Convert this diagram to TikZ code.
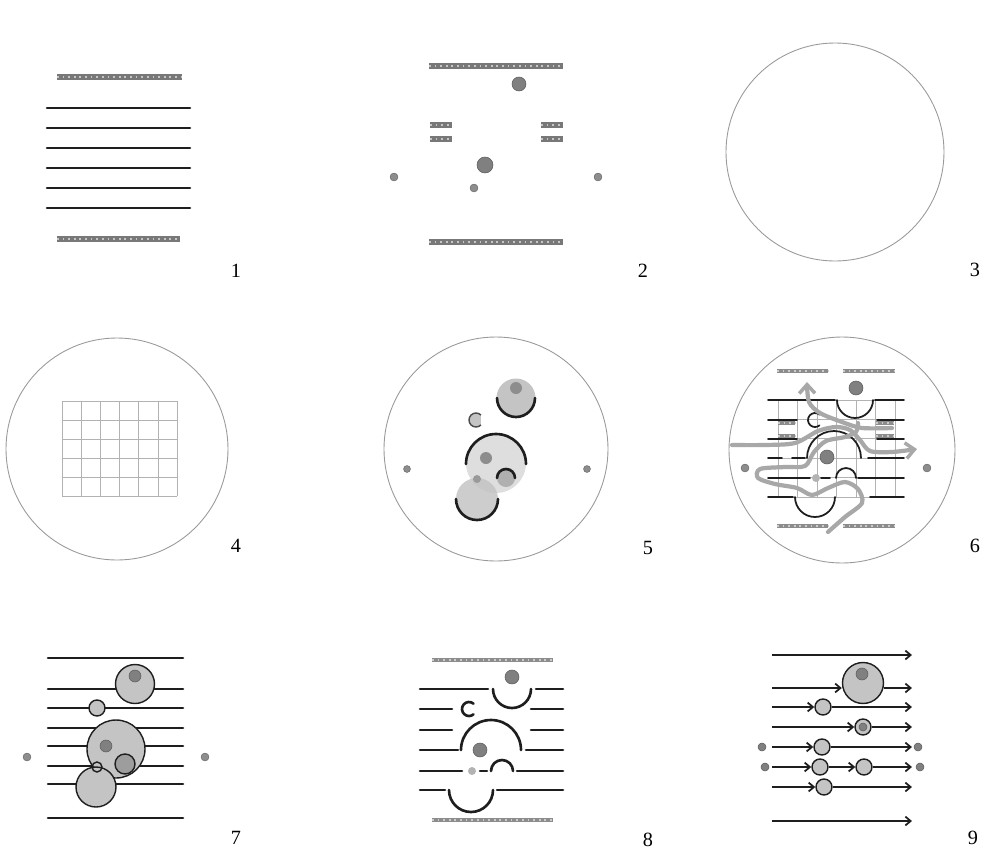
\documentclass[tikz,border=0pt]{standalone}
\usepackage{fontspec}
\setmainfont{Liberation Serif}
\usepackage{tikz}
\usetikzlibrary{arrows.meta}
\definecolor{ink}{RGB}{30,30,30}
\definecolor{bandgray}{RGB}{120,120,120}
\definecolor{cellgray}{RGB}{196,196,196}
\definecolor{paleshade}{RGB}{222,222,222}
\definecolor{nucgray}{RGB}{128,128,128}
\definecolor{flowgray}{RGB}{168,168,168}
\definecolor{gridgray}{RGB}{178,178,178}

\begin{document}
\begin{tikzpicture}[x=0.02cm, y=-0.02cm,
    strand/.style={ink, line width=1.5pt, line cap=round},
    thinstrand/.style={ink, line width=1pt, line cap=round},
    band/.style={bandgray, line width=3pt, postaction={draw=gray!45, line width=0.9pt, dash pattern=on 1pt off 2.2pt}},
    thinband/.style={bandgray!85, line width=1.8pt, postaction={draw=gray!40, line width=0.6pt, dash pattern=on 1pt off 2.2pt}},
    nucleus/.style={fill=nucgray, draw=nucgray!70!black, line width=0.3pt},
    speck/.style={fill=nucgray!90, draw=nucgray!70!black, line width=0.2pt},
    cell/.style={fill=cellgray, draw=ink, line width=0.8pt},
    dish/.style={draw=gray!80, line width=0.5pt},
    mesh/.style={gridgray, line width=0.4pt},
    flow/.style={flowgray, line width=2.4pt, line cap=round, line join=round},
    flowtip/.style={-{Straight Barb[length=5pt, width=9pt, line width=2pt]}},
    drift/.style={ink, line width=1pt, -{Straight Barb[length=3pt, width=5pt]}},
    numlabel/.style={font=\fontsize{11.5}{12}\selectfont, inner sep=0pt}
]
    \useasboundingbox (0,0) rectangle (988,856);

    % Panel 1: layered strands
    \draw[band] (57,77) -- (182,77);
    \foreach \y in {108,128,148,168,188,208}
        \draw[strand] (47,\y) -- (190,\y);
    \draw[band] (57,239) -- (180,239);
    \node[numlabel] (lab1) at (236,271) {1};

    % Panel 2: bands and nuclei
    \draw[band] (429,66) -- (563,66);
    \draw[band] (429,242) -- (563,242);
    \foreach \y in {125,139} {
        \draw[band] (430,\y) -- (452,\y);
        \draw[band] (541,\y) -- (563,\y);
    }
    \fill[nucleus] (519,84) circle (7);
    \fill[nucleus] (485,165) circle (8);
    \foreach \p in {(394,177),(598,177),(474,188)}
        \fill[speck] \p circle (4);
    \node[numlabel] (lab2) at (643,271) {2};

    % Panel 3: empty dish
    \draw[dish] (835,152) circle (109);
    \node[numlabel] (lab3) at (975,270) {3};

    % Panel 4: dish with grid
    \draw[dish] (117,449) circle (111);
    \foreach \i in {0,...,6}
        \draw[mesh] ({62+19.2*\i},401) -- ({62+19.2*\i},496);
    \foreach \j in {0,...,5}
        \draw[mesh] (62,{401+19*\j}) -- (177,{401+19*\j});
    \node[numlabel] (lab4) at (236,546) {4};

    % Panel 5: shaded bubbles
    \draw[dish] (496,449) circle (112);
    \fill[paleshade] (496,463) circle (30);
    \fill[cellgray] (516,398) circle (19.5);
    \fill[nucgray!90] (516,388) circle (6);
    \draw[strand] (497,398) arc[start angle=180, end angle=0, radius=19];
    \draw[fill=cellgray, draw=ink!80, line width=0.8pt] (476,420) ++(315:7) arc[start angle=315, end angle=45, radius=7];
    \draw[strand] (466,464) arc[start angle=180, end angle=360, radius=30];
    \fill[nucgray!90] (486,458) circle (6);
    \fill[cellgray!90!black] (506,478) circle (9);
    \draw[strand] (497,478) arc[start angle=180, end angle=360, radius=9];
    \fill[cellgray, opacity=0.85] (477,499) circle (21);
    \draw[strand] (456,499) arc[start angle=180, end angle=0, radius=21];
    \fill[nucgray!80] (477,479) circle (4);
    \fill[speck] (407,469) circle (3.5);
    \fill[speck] (587,469) circle (3.5);
    \node[numlabel] (lab5) at (648,548) {5};

    % Panel 6: overlay with flow paths
    \draw[dish] (842,450) circle (113);
    \foreach \i in {0,...,6}
        \draw[mesh] ({778+19.5*\i},400) -- ({778+19.5*\i},497);
    \foreach \j in {0,...,5}
        \draw[mesh] (778,{400+19.4*\j}) -- (895,{400+19.4*\j});
    \draw[thinband] (777,371) -- (828,371);
    \draw[thinband] (843,371) -- (895,371);
    \draw[thinband] (777,526) -- (828,526);
    \draw[thinband] (843,526) -- (895,526);
    \foreach \y in {423,436} {
        \draw[thinband] (778,\y) -- (795,\y);
        \draw[thinband] (876,\y) -- (894,\y);
    }
    \fill[nucleus] (856,388) circle (7);
    \fill[nucleus] (827,457) circle (7);
    \fill[speck] (745,468) circle (4);
    \fill[speck] (927,468) circle (4);
    \fill[nucgray!60] (816,478) circle (4);
    \draw[thinstrand] (768,400) -- (835,400);
    \draw[thinstrand] (837,400) arc[start angle=180, end angle=0, radius=18];
    \draw[thinstrand] (875,400) -- (904,400);
    \draw[thinstrand] (768,420) -- (797,420);
    \draw[thinstrand] (815,420) ++(310:7) arc[start angle=310, end angle=50, radius=7];
    \draw[thinstrand] (877,420) -- (904,420);
    \draw[thinstrand] (768,439) -- (797,439);
    \draw[thinstrand] (877,439) -- (904,439);
    \draw[thinstrand] (807,458) arc[start angle=180, end angle=360, radius=27];
    \draw[thinstrand] (768,458) -- (782,458);
    \draw[thinstrand] (792,458) -- (805,458);
    \draw[thinstrand] (868,458) -- (904,458);
    \draw[thinstrand] (768,478) -- (810,478);
    \draw[thinstrand] (821,478) -- (830,478);
    \draw[thinstrand] (836,478) arc[start angle=180, end angle=360, radius=10];
    \draw[thinstrand] (858,478) -- (904,478);
    \draw[thinstrand] (768,497) -- (793,497);
    \draw[thinstrand] (795,497) arc[start angle=180, end angle=0, radius=20];
    \draw[thinstrand] (870,497) -- (904,497);
    \draw[flow, flowtip] plot[smooth] coordinates {(892,428) (862,428) (842,422) (820,413) (809,402) (807,382)};
    \draw[flow, flowtip] plot[smooth] coordinates {(732,445) (765,445) (795,443) (818,431) (836,427) (850,430) (860,440) (870,451) (892,452) (917,449)};
    \draw[flow] plot[smooth] coordinates {(828,532) (845,517) (862,503) (858,489) (845,482) (828,488) (812,495) (797,488) (775,484) (758,478) (760,469) (785,467) (805,466) (814,452) (826,441) (845,437) (856,432) (858,423)};
    \node[numlabel] (lab6) at (975,546) {6};

    % Panel 7: strands with cells
    \foreach \y in {658,689,708,728,746,766,784,818}
        \draw[strand] (48,\y) -- (183,\y);
    \draw[cell] (135,684) circle (19.5);
    \fill[nucleus] (135,676) circle (6);
    \draw[cell] (97,708) circle (8);
    \draw[cell] (116,749) circle (29);
    \fill[nucleus] (106,746) circle (6);
    \draw[cell, fill=cellgray!80!black] (125,764) circle (10);
    \draw[cell] (96,787) circle (20);
    \draw[ink, line width=0.8pt] (97,767) circle (5);
    \fill[speck] (27,757) circle (4);
    \fill[speck] (205,757) circle (4);
    \node[numlabel] (lab7) at (236,838) {7};

    % Panel 8: strands opened round the cells
    \draw[thinband] (432,660) -- (553,660);
    \draw[thinband] (432,820) -- (553,820);
    \fill[nucleus] (512,677) circle (7);
    \fill[nucleus] (480,750) circle (7);
    \fill[nucgray!60] (472,771) circle (4);
    \draw[strand] (420,689) -- (488,689);
    \draw[strand] (493,689) arc[start angle=180, end angle=0, radius=19];
    \draw[strand] (536,689) -- (563,689);
    \draw[strand] (420,709) -- (452,709);
    \draw[strand] (469,709) ++(310:7) arc[start angle=310, end angle=50, radius=7];
    \draw[strand] (531,709) -- (563,709);
    \draw[strand] (420,730) -- (452,730);
    \draw[strand] (531,730) -- (563,730);
    \draw[strand] (461,750) arc[start angle=180, end angle=360, radius=30];
    \draw[strand] (420,750) -- (458,750);
    \draw[strand] (526,750) -- (563,750);
    \draw[strand] (420,771) -- (462,771);
    \draw[strand] (480,771) -- (487,771);
    \draw[strand] (491,771) arc[start angle=180, end angle=360, radius=11];
    \draw[strand] (517,771) -- (563,771);
    \draw[strand] (420,790) -- (445,790);
    \draw[strand] (449,790) arc[start angle=180, end angle=0, radius=22];
    \draw[strand] (497,790) -- (563,790);
    \node[numlabel] (lab8) at (648,840) {8};

    % Panel 9: cells drifting along strands
    \node[cell, circle, minimum size=0.82cm, inner sep=0pt] (big) at (863,683) {};
    \fill[nucleus] (862,674) circle (6);
    \foreach \n/\x/\y in {c3/823/707, c4/863/727, c5/822/747, c6a/820/767, c6b/864/767, c7/824/787}
        \node[cell, circle, minimum size=0.32cm, inner sep=0pt] (\n) at (\x,\y) {};
    \fill[nucleus] (c4) circle (4);
    \foreach \r/\y in {1/655,2/688,3/707,4/727,5/747,6/767,7/787,8/821} {
        \coordinate (s\r) at (772,\y);
        \coordinate (e\r) at (912,\y);
    }
    \draw[drift] (s1) -- (e1);
    \draw[drift] (s2) -- (s2 -| big.west);
    \draw[drift] (s2 -| big.east) -- (e2);
    \draw[drift] (s3) -- (c3);
    \draw[drift] (c3) -- (e3);
    \draw[drift] (s4) -- (c4);
    \draw[drift] (c4) -- (e4);
    \draw[drift] (s5) -- (c5);
    \draw[drift] (c5) -- (e5);
    \draw[drift] (s6) -- (c6a);
    \draw[drift] (c6a) -- (c6b);
    \draw[drift] (c6b) -- (e6);
    \draw[drift] (s7) -- (c7);
    \draw[drift] (c7) -- (e7);
    \draw[drift] (s8) -- (e8);
    \fill[nucleus] (762,747) circle (4);
    \fill[nucleus] (918,747) circle (4);
    \fill[nucleus] (765,767) circle (4);
    \fill[nucleus] (920,767) circle (4);
    \node[numlabel] (lab9) at (973,838) {9};
\end{tikzpicture}
\end{document}
